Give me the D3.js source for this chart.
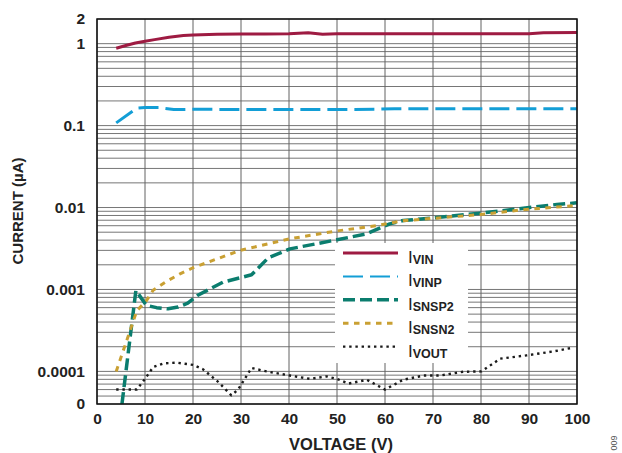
<!DOCTYPE html>
<html>
<head>
<meta charset="utf-8">
<script src="https://cdn.jsdelivr.net/npm/d3@7/dist/d3.min.js"></script>
<style>
  html, body { margin: 0; padding: 0; background: #fff; }
  svg { display: block; }
  text { font-family: "Liberation Sans", Arial, Helvetica, sans-serif; }
</style>
</head>
<body>
<svg id="chart" width="622" height="453"></svg>
<script>
// Supply currents versus supply voltage (log current axis)
const xTicks = [0, 10, 20, 30, 40, 50, 60, 70, 80, 90, 100];
const yTickValues = [0.00004, 0.0001, 0.001, 0.01, 0.1, 1, 2];
const yTickLabels = ["0", "0.0001", "0.001", "0.01", "0.1", "1", "2"];

// [voltage (V), current (µA)]
const iVIN = [[4, 0.88], [6, 0.95], [8, 1.02], [10, 1.07], [12, 1.12], [15, 1.2], [18, 1.26], [20, 1.28],
  [25, 1.3], [30, 1.31], [35, 1.31], [40, 1.32], [44, 1.36], [47, 1.3], [50, 1.32], [60, 1.32],
  [70, 1.32], [80, 1.32], [90, 1.32], [93, 1.36], [100, 1.37]];
const iVINP = [[4, 0.108], [8.3, 0.163], [10, 0.166], [13, 0.166], [16, 0.157], [20, 0.158], [40, 0.157],
  [58, 0.158], [62, 0.161], [100, 0.161]];
const iSNSP2 = [[5.2, 0.00004], [8.1, 0.00097], [10.3, 0.00064], [12.4, 0.0006], [14.8, 0.00058],
  [16.9, 0.00061], [18.9, 0.00068], [21, 0.00085], [26.3, 0.00123], [32.2, 0.00151], [35.7, 0.00244],
  [40.2, 0.00313], [50, 0.00404], [56.2, 0.00478], [61, 0.00632], [63.8, 0.00694], [69.4, 0.0074],
  [79.8, 0.00853], [88.8, 0.0098], [95.8, 0.0109], [100, 0.0114]];
const iSNSN2 = [[4, 0.0001], [8.3, 0.00055], [10.3, 0.00073], [11.7, 0.00098], [14.5, 0.00126],
  [17.3, 0.00155], [20, 0.00184], [29.8, 0.003], [40.2, 0.00415], [49.2, 0.0051], [58.3, 0.00603],
  [63.8, 0.0069], [79.8, 0.0082], [88.8, 0.0094], [100, 0.0106]];
const iVOUT = [[4, 0.00006], [8.3, 0.00006], [10, 0.000081], [11.7, 0.000113], [13.8, 0.000125],
  [16.6, 0.000128], [20, 0.00012], [22.1, 0.000106], [25.3, 0.000074], [28, 0.000051], [29.4, 0.00006],
  [32.2, 0.00011], [35.3, 0.0001], [40.2, 0.000089], [44.4, 0.000081], [47.8, 0.000087], [50, 0.000081],
  [52.4, 0.000071], [56.2, 0.000079], [60, 0.00006], [63.8, 0.000079], [68, 0.000089], [71.5, 0.000089],
  [76.3, 0.000099], [80.1, 0.0001], [84, 0.000143], [89.5, 0.000157], [95, 0.000175], [99.2, 0.000195]];

const seriesNames = ["VIN", "VINP", "SNSP2", "SNSN2", "VOUT"];
const seriesData = [iVIN, iVINP, iSNSP2, iSNSN2, iVOUT];
const seriesColors = ["#9e1b42", "#139ed6", "#0b7d6e", "#c9a033", "#1a1a1a"];
const seriesWidths = [3, 3, 3.5, 3, 2.4];
const seriesDash = [null, "20,7", "12,5", "5.5,5.5", "2.4,3.8"];
const legendWidths = [3, 2, 3.5, 3, 2.4];

const svg = d3.select("#chart");
const L = 97, R = 577, T = 19, B = 404;

const x = d3.scaleLinear().domain([0, 100]).range([L, R]);
const y = d3.scaleLog().domain([0.00004, 2]).range([B, T]);

// grid: minor log lines in every decade
const hLines = [];
for (let d = -5; d <= 0; d++) {
  for (let k = 1; k <= 9; k++) {
    const v = k * Math.pow(10, d);
    if (v >= 0.00004 && v <= 2) hLines.push(v);
  }
}
const grid = svg.append("g").attr("class", "grid");
grid.selectAll("line.h").data(hLines).join("line")
  .attr("class", "h")
  .attr("x1", L).attr("x2", R)
  .attr("y1", d => y(d)).attr("y2", d => y(d))
  .attr("stroke", "#767676").attr("stroke-width", 1);
grid.selectAll("line.v").data(xTicks).join("line")
  .attr("class", "v")
  .attr("x1", d => x(d)).attr("x2", d => x(d))
  .attr("y1", T).attr("y2", B)
  .attr("stroke", "#636363").attr("stroke-width", 1);

// legend
const lg = svg.append("g").attr("class", "legend");
lg.append("rect").attr("x", 335).attr("y", 243).attr("width", 133).attr("height", 120).attr("fill", "#fff");
seriesNames.forEach((name, i) => {
  const cy = 253 + i * 23.4;
  lg.append("line")
    .attr("x1", 343).attr("x2", 398).attr("y1", cy).attr("y2", cy)
    .attr("stroke", seriesColors[i]).attr("stroke-width", legendWidths[i])
    .attr("stroke-dasharray", seriesDash[i]);
  const t = lg.append("text").attr("x", 408).attr("y", cy + 10).attr("fill", "#222");
  t.append("tspan").attr("font-size", 17).text("I");
  t.append("tspan").attr("font-size", 12.5).attr("font-weight", "bold").attr("dy", 1).text(name);
});

// series
const line = d3.line().x(d => x(d[0])).y(d => y(d[1]));
svg.append("clipPath").attr("id", "plotClip")
  .append("rect").attr("x", L).attr("y", T).attr("width", R - L).attr("height", B - T);
const lines = svg.append("g").attr("clip-path", "url(#plotClip)");
seriesData.forEach((data, i) => {
  lines.append("path").datum(data)
    .attr("d", line)
    .attr("fill", "none")
    .attr("stroke", seriesColors[i])
    .attr("stroke-width", seriesWidths[i])
    .attr("stroke-dasharray", seriesDash[i])
    .attr("stroke-linejoin", "round");
});

// plot frame
svg.append("rect").attr("x", L).attr("y", T).attr("width", R - L).attr("height", B - T)
  .attr("fill", "none").attr("stroke", "#111").attr("stroke-width", 1.5);

// axes
const xAxis = svg.append("g").attr("transform", `translate(0,${B})`)
  .call(d3.axisBottom(x).tickValues(xTicks).tickSize(0).tickPadding(9));
const yAxis = svg.append("g").attr("transform", `translate(${L},0)`)
  .call(d3.axisLeft(y).tickValues(yTickValues).tickSize(0).tickPadding(12)
    .tickFormat((d, i) => yTickLabels[i]));
[xAxis, yAxis].forEach(a => {
  a.select(".domain").remove();
  a.selectAll("text").attr("font-size", 15.5).attr("font-weight", "bold").attr("fill", "#222")
    .attr("font-family", '"Liberation Sans", Arial, sans-serif');
});

// axis titles
svg.append("text").attr("x", 341).attr("y", 450).attr("text-anchor", "middle")
  .attr("font-size", 16.5).attr("font-weight", "bold").attr("fill", "#222").text("VOLTAGE (V)");
svg.append("text").attr("transform", "translate(23,211) rotate(-90)").attr("text-anchor", "middle")
  .attr("font-size", 15).attr("font-weight", "bold").attr("fill", "#222").text("CURRENT (µA)");

// figure number
svg.append("text").attr("transform", "translate(617,443) rotate(-90)").attr("text-anchor", "middle")
  .attr("font-size", 9).attr("fill", "#555").text("009");
</script>
</body>
</html>
